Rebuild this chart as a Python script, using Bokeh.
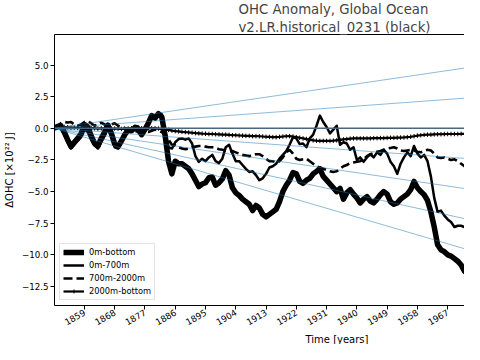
import math
from bokeh.plotting import figure
from bokeh.models import (FixedTicker, CustomJSTickFormatter, LinearAxis, Legend,
                          LegendItem, ColumnDataSource, Title)
from bokeh.embed import file_html
from bokeh.resources import INLINE

years = list(range(1850, 1975))

ohc_0m_bottom = [
    0.0, 0.15, 0.2, -0.3, -0.9, -1.45, -1.1, -0.8, -0.45, 0.3,
    0.1, -0.6, -1.2, -1.4, -0.8, -0.3, 0.25, -0.4, -1.25, -1.45,
    -1.0, -0.5, -0.15, -0.2, 0.05, -0.1, -0.5, -0.1, 0.4, 1.0,
    0.8, 1.15, 0.9, -0.6, -2.6, -3.6, -2.6, -2.8, -2.8, -3.0,
    -3.2, -3.6, -4.1, -4.6, -4.4, -4.3, -3.9, -3.85, -4.5, -4.3,
    -4.0, -3.35, -3.7, -4.7, -5.1, -5.3, -5.6, -5.8, -6.0, -6.5,
    -6.1, -6.3, -6.8, -7.0, -6.8, -6.6, -6.4, -5.8, -5.0, -4.5,
    -4.1, -3.5, -3.6, -4.2, -4.35, -4.1, -3.95, -3.6, -3.4, -3.2,
    -3.8, -4.1, -4.4, -4.7, -5.0, -4.75, -5.6, -5.1, -4.85, -5.2,
    -5.5, -5.9, -5.6, -5.4, -5.75, -5.9, -5.6, -5.25, -5.0, -5.2,
    -5.8, -6.0, -5.9, -5.6, -5.4, -5.2, -4.85, -4.2, -4.7, -5.0,
    -5.25, -5.7, -6.6, -7.8, -9.2, -9.6, -9.75, -10.0, -10.1, -10.3,
    -10.5, -10.8, -11.3, -11.0, -10.6]

ohc_0m_700m = [
    0.0, 0.05, 0.0, -0.5, -1.1, -1.6, -1.3, -1.0, -0.7, -0.1,
    -0.3, -0.9, -1.35, -1.6, -1.1, -0.6, 0.0, -0.6, -1.5, -1.6,
    -1.15, -0.55, -0.1, -0.15, 0.2, 0.15, -0.3, 0.1, 0.6, 1.1,
    0.9, 1.25, 1.1, -0.2, -1.5, -1.6, -1.1, -0.85, -0.8, -0.9,
    -0.8, -1.2, -2.2, -2.65, -2.4, -2.6, -2.3, -2.1, -2.6, -2.75,
    -2.4, -1.5, -1.3, -2.0, -2.6, -2.6, -2.9, -3.2, -3.45, -3.4,
    -3.7, -4.1, -3.95, -3.6, -3.1, -3.0, -2.8, -2.4, -2.1, -1.8,
    -1.3, -0.7, -0.8, -1.25, -1.2, -1.5, -0.8, -0.5, 0.2, 1.0,
    0.5, 0.1, -0.4, -0.1, 0.2, -1.3, -1.1, -1.2, -1.7, -1.5,
    -2.5, -2.3, -2.65, -2.3, -2.05, -2.3, -1.9, -2.1, -1.7, -2.0,
    -2.65, -3.0, -3.6, -2.8, -2.3, -1.9, -2.2, -1.4, -2.0, -2.3,
    -2.1, -2.6, -3.8, -5.5, -6.6, -6.5, -6.9, -7.2, -7.4, -7.8,
    -7.7, -7.7, -7.8, -7.5, -7.0]

ohc_700m_2000m = [
    0.0, 0.2, 0.4, 0.5, 0.45, 0.5, 0.3, 0.2, 0.3, 0.5,
    0.55, 0.4, 0.2, 0.3, 0.45, 0.3, 0.2, 0.3, 0.4, 0.2,
    0.1, 0.0, -0.1, -0.05, -0.2, -0.3, -0.2, -0.25, -0.3, -0.2,
    -0.1, -0.2, -0.3, -0.5, -0.9, -1.3, -1.35, -1.5, -1.6, -1.65,
    -1.6, -1.5, -1.45, -1.4, -1.4, -1.45, -1.5, -1.5, -1.55, -1.65,
    -1.7, -1.75, -1.8, -1.8, -1.9, -2.0, -2.1, -2.15, -2.2, -2.15,
    -2.05, -2.05, -2.2, -2.4, -2.6, -2.6, -2.7, -2.6, -2.3, -1.9,
    -1.7, -2.0, -2.4, -2.5, -2.45, -2.4, -2.6, -2.8, -3.0, -3.1,
    -3.2, -3.3, -3.4, -3.45, -3.4, -3.2, -3.0, -2.9, -2.75, -2.7,
    -2.65, -2.6, -2.45, -2.2, -2.05, -1.95, -1.85, -1.8, -1.7, -1.6,
    -1.55, -1.5, -1.6, -1.75, -1.8, -1.75, -1.7, -1.75, -1.85, -1.9,
    -1.8, -1.7, -1.75, -2.0, -2.3, -2.35, -2.3, -2.4, -2.5, -2.45,
    -2.6, -2.8, -3.0, -3.1, -3.2]

ohc_2000m_bottom = [
    0.0, 0.05, 0.08, 0.1, 0.08, 0.05, 0.05, 0.03, 0.02, 0.0,
    0.0, 0.02, 0.0, -0.02, 0.0, 0.0, -0.02, -0.03, -0.02, -0.03,
    -0.05, -0.03, -0.02, 0.0, 0.0, 0.02, 0.0, 0.0, 0.02, 0.0,
    0.0, -0.02, -0.05, -0.08, -0.12, -0.18, -0.22, -0.25, -0.28, -0.3,
    -0.33, -0.35, -0.38, -0.4, -0.42, -0.43, -0.45, -0.45, -0.47, -0.48,
    -0.5, -0.5, -0.52, -0.55, -0.55, -0.57, -0.58, -0.6, -0.6, -0.62,
    -0.62, -0.63, -0.65, -0.67, -0.68, -0.7, -0.7, -0.68, -0.65, -0.63,
    -0.62, -0.65, -0.7, -0.75, -0.8, -0.85, -0.9, -0.95, -0.98, -1.0,
    -1.0, -1.0, -1.0, -0.98, -0.95, -0.92, -0.88, -0.85, -0.82, -0.8,
    -0.8, -0.8, -0.8, -0.8, -0.8, -0.78, -0.78, -0.77, -0.77, -0.76,
    -0.75, -0.75, -0.74, -0.73, -0.72, -0.7, -0.67, -0.63, -0.58, -0.55,
    -0.52, -0.5, -0.5, -0.48, -0.47, -0.47, -0.46, -0.45, -0.45, -0.45,
    -0.45, -0.44, -0.44, -0.43, -0.43]

# reference trend lines (x10^22 J per year) starting from the first year
trend_slopes = [0.039, 0.0195, 0.0, -0.0195, -0.039, -0.0585, -0.078]
trend_start_year = 1850
trend_end_year = 2014

x_ticks = [1859, 1868, 1877, 1886, 1895, 1904, 1913, 1922, 1931, 1940, 1949, 1958, 1967, 1976]
y_ticks = [-12.5, -10.0, -7.5, -5.0, -2.5, 0.0, 2.5, 5.0]

FONT = "DejaVu Sans"

p = figure(width=464, height=344, output_backend="svg", toolbar_location=None,
           x_range=(1850.1, 1972.0), y_range=(-14.0, 7.41),
           min_border_left=45, min_border_right=0, min_border_top=0, min_border_bottom=0)
p.outline_line_color = None
p.xgrid.visible = False
p.ygrid.visible = False
p.background_fill_color = "white"

p.title.text = "OHC Anomaly, Global Ocean\n v2.LR.historical_0231 (black)"
p.title.align = "left"
p.title.offset = 184
p.title.text_font = FONT
p.title.text_font_size = "13.3px"
p.title.text_font_style = "normal"
p.title.text_line_height = 1.15
p.title.standoff = 0

for ax in (p.xaxis[0], p.yaxis[0]):
    ax.axis_line_color = "black"
    ax.axis_line_width = 1
    ax.major_tick_line_color = "black"
    ax.major_tick_out = 4
    ax.major_tick_in = 0
    ax.minor_tick_out = 0
    ax.minor_tick_in = 0
    ax.major_label_text_font = FONT
    ax.major_label_text_font_size = "8.7px"
    ax.major_label_text_color = "black"
    ax.axis_label_text_font = FONT
    ax.axis_label_text_font_size = "10px"
    ax.axis_label_text_font_style = "normal"
    ax.axis_label_text_color = "black"

p.xaxis.ticker = FixedTicker(ticks=x_ticks)
p.xaxis.major_label_orientation = math.pi / 6
p.xaxis.major_label_standoff = 2

p.yaxis.ticker = FixedTicker(ticks=y_ticks)
p.yaxis.formatter = CustomJSTickFormatter(code="return tick.toFixed(1).replace('-', '\u2212');")
p.yaxis.major_label_standoff = 2
p.yaxis.axis_label = "\u0394OHC [\u00d710\u00b2\u00b2 J]"
p.yaxis.axis_label_standoff = 4

top_axis = LinearAxis(ticker=FixedTicker(ticks=[]), major_label_text_font_size="0px",
                      major_tick_out=0, major_tick_in=0, minor_tick_out=0, minor_tick_in=0,
                      axis_line_color="black", axis_line_width=1,
                      major_label_standoff=0)
p.add_layout(top_axis, "above")

# x axis title, centred under the full axes as in the original figure
x_title = Title(text="Time [years]", align="left", offset=251, standoff=0,
                text_font=FONT, text_font_size="10px", text_font_style="normal",
                text_color="black")
p.add_layout(x_title, "below")

src = ColumnDataSource(dict(year=years, b=ohc_0m_bottom, u=ohc_0m_700m,
                            m=ohc_700m_2000m, d=ohc_2000m_bottom))

r_b = p.line("year", "b", source=src, line_color="black", line_width=5.5, line_join="round")
r_u = p.line("year", "u", source=src, line_color="black", line_width=2.5, line_join="round")
r_m = p.line("year", "m", source=src, line_color="black", line_width=2.6, line_dash="9 4")
r_d = p.line("year", "d", source=src, line_color="black", line_width=2.2, line_join="round")
r_dm = p.scatter("year", "d", source=src, marker="cross", size=4.5, line_color="black", line_width=1)

for s in trend_slopes:
    xs = [trend_start_year, trend_end_year]
    ys = [0.0, s * (trend_end_year - trend_start_year)]
    if s == 0.0:
        p.line(xs, ys, line_color="#4a6680", line_width=1.4)
    else:
        p.line(xs, ys, line_color="#1f77b4", line_alpha=0.5, line_width=1)

legend = Legend(items=[
    LegendItem(label="0m-bottom", renderers=[r_b]),
    LegendItem(label="0m-700m", renderers=[r_u]),
    LegendItem(label="700m-2000m", renderers=[r_m]),
    LegendItem(label="2000m-bottom", renderers=[r_d, r_dm]),
], location="bottom_left")
legend.margin = 5
legend.padding = 3
legend.spacing = 3
legend.glyph_width = 21
legend.glyph_height = 10
legend.label_height = 10
legend.label_standoff = 5
legend.label_text_font = FONT
legend.label_text_font_size = "8.3px"
legend.label_text_color = "black"
legend.border_line_color = "#cccccc"
legend.border_line_width = 1
legend.background_fill_alpha = 0.8
p.add_layout(legend, "center")

open("out.html", "w").write(file_html(p, INLINE))
